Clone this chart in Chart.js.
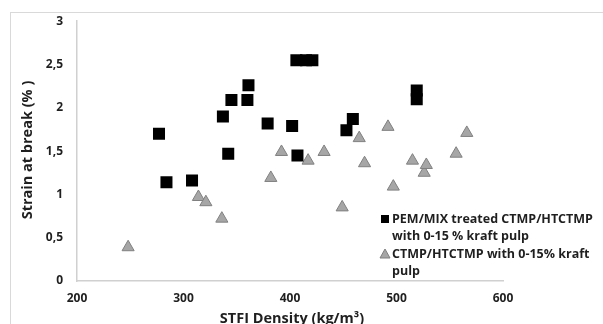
<!DOCTYPE html>
<html>
<head>
<meta charset="utf-8">
<script src="https://cdn.jsdelivr.net/npm/chart.js@4"></script>
<style>
  html, body { margin: 0; padding: 0; background: #fff; }
  #wrap { width: 603px; height: 324px; position: relative; }
</style>
</head>
<body>
<div id="wrap"><canvas id="c"></canvas></div>
<script>
// values
const treatedX = [277, 284, 308, 337, 342, 345, 360, 361, 379, 402, 406, 407, 415, 421, 453, 459, 519, 519];
const treatedY = [1.70, 1.14, 1.16, 1.90, 1.47, 2.09, 2.09, 2.26, 1.82, 1.79, 2.55, 1.45, 2.55, 2.55, 1.74, 1.87, 2.20, 2.10];
const refX = [248, 314, 321, 336, 382, 392, 417, 432, 449, 465, 470, 492, 497, 515, 526, 528, 556, 566];
const refY = [0.39, 0.97, 0.91, 0.72, 1.19, 1.49, 1.39, 1.49, 0.85, 1.65, 1.36, 1.78, 1.09, 1.39, 1.25, 1.34, 1.47, 1.71];
const legendLines = [
  ['PEM/MIX treated CTMP/HTCTMP', 'with 0-15 % kraft pulp'],
  ['CTMP/HTCTMP with 0-15% kraft', 'pulp']
];
const xTitle = 'STFI Density (kg/m³)';
const yTitle = 'Strain at break (% )';

const toPoints = (xs, ys) => xs.map((x, i) => ({ x: x, y: ys[i] }));
const FONT = '"Open Sans", "Liberation Sans", sans-serif';

// frame, axis titles and the wrapped legend
const extras = {
  id: 'extras',
  afterDraw(chart) {
    const ctx = chart.ctx;
    ctx.save();
    ctx.strokeStyle = '#d9d9d9';
    ctx.lineWidth = 1;
    ctx.strokeRect(10.5, 12.5, 700, 400);

    ctx.fillStyle = '#1f1f1f';
    ctx.font = 'bold 14.5px ' + FONT;
    ctx.textAlign = 'center';
    ctx.textBaseline = 'middle';
    ctx.fillText(xTitle, 292, 319);
    ctx.translate(28, 150);
    ctx.rotate(-Math.PI / 2);
    ctx.fillText(yTitle, 0, 0);
    ctx.restore();

    ctx.save();
    ctx.font = 'bold 12.5px ' + FONT;
    ctx.textAlign = 'left';
    ctx.textBaseline = 'middle';
    const lx = 392, rows = [219, 236, 254, 271];
    let r = 0;
    legendLines.forEach((lines, i) => {
      const y0 = rows[r];
      if (i === 0) {
        ctx.fillStyle = '#000';
        ctx.fillRect(lx - 11, y0 - 4, 8, 8);
      } else {
        ctx.fillStyle = '#a6a6a6';
        ctx.strokeStyle = '#7f7f7f';
        ctx.beginPath();
        ctx.moveTo(lx - 7, y0 - 5);
        ctx.lineTo(lx - 2, y0 + 4);
        ctx.lineTo(lx - 12, y0 + 4);
        ctx.closePath();
        ctx.fill();
        ctx.stroke();
      }
      ctx.fillStyle = '#1f1f1f';
      lines.forEach(t => { ctx.fillText(t, lx, rows[r]); r++; });
    });
    ctx.restore();
  }
};

new Chart(document.getElementById('c'), {
  type: 'scatter',
  data: {
    datasets: [
      {
        label: legendLines[0].join(' '),
        data: toPoints(treatedX, treatedY),
        pointStyle: 'rect',
        pointRadius: 8.5,
        backgroundColor: '#000',
        borderColor: '#000',
        borderWidth: 0
      },
      {
        label: legendLines[1].join(' '),
        data: toPoints(refX, refY),
        pointStyle: 'triangle',
        pointRadius: 7,
        backgroundColor: '#a6a6a6',
        borderColor: '#808080',
        borderWidth: 1
      }
    ]
  },
  options: {
    responsive: true,
    maintainAspectRatio: false,
    animation: false,
    layout: { padding: { left: 0, top: 20, right: 100, bottom: 0 } },
    plugins: { legend: { display: false }, tooltip: { enabled: false } },
    scales: {
      x: {
        min: 200, max: 600,
        afterFit: s => { s.height = 43; },
        grid: { display: false, drawTicks: false },
        border: { display: true, color: '#d0d0d0', width: 1.5 },
        ticks: { stepSize: 100, padding: 10, color: '#1f1f1f', font: { family: FONT, size: 12, weight: 'bold' } }
      },
      y: {
        min: 0, max: 3,
        afterFit: s => { s.width = 77; },
        grid: { display: false, drawTicks: false },
        border: { display: true, color: '#d0d0d0', width: 1.5 },
        ticks: {
          stepSize: 0.5, padding: 14, color: '#1f1f1f',
          font: { family: FONT, size: 12, weight: 'bold' },
          callback: v => String(v).replace('.', ',')
        }
      }
    }
  },
  plugins: [extras]
});
</script>
</body>
</html>
